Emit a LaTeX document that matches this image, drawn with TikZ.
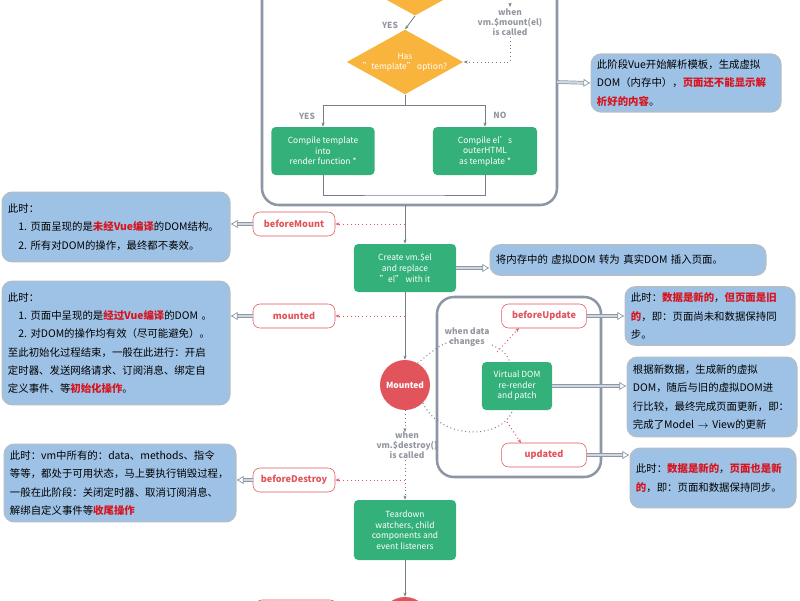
\documentclass[tikz,border=0pt]{standalone}
\usepackage{fontspec}
\setmainfont{Noto Sans CJK SC}[Ligatures=ResetAll]
\usetikzlibrary{arrows.meta,shapes.geometric}

\definecolor{vgreen}{RGB}{52,176,122}
\definecolor{vorange}{RGB}{248,180,60}
\definecolor{vred}{RGB}{226,84,92}
\definecolor{hot}{RGB}{215,20,30}
\definecolor{noteblue}{RGB}{158,194,230}
\definecolor{noteline}{RGB}{175,190,205}
\definecolor{frame}{RGB}{140,150,165}
\definecolor{wire}{RGB}{120,125,135}

\newcommand{\hl}[1]{\textbf{\color{hot}#1}}

\tikzset{
  task/.style={fill=vgreen, text=white, rounded corners=3pt, align=center,
    font=\fontsize{6}{7.5}\selectfont, minimum width=2.55cm, minimum height=1.2cm},
  choice/.style={diamond, fill=vorange, text=white, aspect=1.8, inner sep=0pt,
    minimum width=2.5cm, minimum height=1.38cm, align=center, font=\fontsize{6}{7}\selectfont},
  hook/.style={draw=vred, fill=white, rounded corners=5pt, text=vred,
    font=\fontsize{6.5}{7}\selectfont\bfseries, minimum width=2.05cm, minimum height=0.6cm},
  stage/.style={circle, fill=vred, text=white, minimum size=1.25cm,
    font=\fontsize{6}{7}\selectfont\bfseries},
  note/.style={fill=noteblue, draw=noteline, line width=1.2pt, rounded corners=7pt,
    align=left, font=\fontsize{7.4}{13}\selectfont, inner sep=4pt},
  tag/.style={text=wire!80, font=\fontsize{6}{7}\selectfont\bfseries, align=center},
  flow/.style={-{Stealth[length=3pt]}, wire, line width=0.6pt},
  hint/.style={-{Stealth[length=3pt]}, wire, dotted, line width=0.7pt},
  fire/.style={-{Stealth[length=3pt]}, vred, dotted, line width=0.7pt},
  push/.style={-{Latex[open,length=5pt,width=6pt]}, draw=noteline!80!black,
    double=noteline!60, double distance=1.6pt, line width=0.5pt},
}

\begin{document}
\begin{tikzpicture}[x=0.025cm, y=-0.025cm]
  \useasboundingbox (0,0) rectangle (800,600);
  \clip (0,0) rectangle (800,600);

  % compile frame
  \draw[frame, line width=1.8pt, rounded corners=12pt] (262,-20) rectangle (557,205);
  \node[choice] (el) at (415,-12) {};
  \node[choice] (tpl) at (405,62) {Has\\"template" option?};
  \node[task, minimum width=2.58cm] (render) at (323,151) {Compile template\\into\\render function *};
  \node[task, minimum width=2.6cm] (outer) at (485,151) {Compile el's\\outerHTML\\as template *};
  \coordinate (mnt) at (510,-20);
  \node[tag] at (510,22) {when\\vm.\$mount(el)\\is called};
  \node[tag] at (390,25) {YES};
  \node[tag] at (307,116) {YES};
  \node[tag] at (500,115) {NO};
  \draw[flow] (el.south) -- (tpl.north);
  \draw[hint] (mnt) -- (510,7); \draw[hint] (510,37) |- (tpl.east);
  \draw[flow] (tpl.south) -- (405,105) -| (render.north);
  \draw[flow] (405,105) -| (outer.north);
  \draw[wire, line width=0.6pt] (render.south) |- (405,195) -| (outer.south);

  % mount
  \node[task] (create) at (405,268) {Create vm.\$el\\and replace\\"el" with it};
  \node[stage] (mounted) at (405,385) {Mounted};
  \node[hook] (bm) at (294,224) {beforeMount};
  \node[hook] (md) at (294,316) {mounted};
  \draw[flow] (405,205) -- (create.north);
  \draw[flow] (create.south) -- (mounted.north);
  \draw[fire] (405,224) -- (bm.east);
  \draw[fire] (405,316) -- (md.east);

  % update frame
  \draw[frame, line width=1.8pt, rounded corners=12pt] (437,297) rectangle (601,477);
  \node[hook, minimum width=2.12cm] (bu) at (544,316) {beforeUpdate};
  \node[hook, minimum width=2.12cm] (ud) at (544,455) {updated};
  \node[task, minimum width=1.75cm] (vdom) at (517,386) {Virtual DOM\\re-render\\and patch};
  \node[tag] at (467,337) {when data\\changes};
  \draw[wire, dotted, line width=0.7pt] (mounted.60) .. controls (440,345) .. (455,340);
  \draw[wire, dotted, line width=0.7pt] (492,345) .. controls (505,352) .. (510,362);
  \draw[wire, dotted, line width=0.7pt] (mounted.-45) .. controls (440,440) and (500,440) .. (512,412);
  \draw[fire] (497,352) -- (519,328);
  \draw[fire] (507,422) -- (521,443);

  % destroy
  \node[tag] at (407,445) {when\\vm.\$destroy()\\is called};
  \node[task, minimum height=1.5cm] (teardown) at (405,530) {Teardown\\watchers, child\\components and\\event listeners};
  \node[stage] (destroyed) at (405,622) {};
  \node[hook] (bd) at (294,480) {beforeDestroy};
  \node[hook] (dd) at (296,612) {};
  \draw[hint] (mounted.south) -- (405,432);
  \draw[hint] (405,460) -- (teardown.north);
  \draw[fire] (405,480) -- (bd.east);
  \draw[flow] (teardown.south) -- (destroyed.north);

  % notes
  \node[note, text width=4.45cm, minimum height=1.43cm] (n1) at (686,83)
    {此阶段Vue开始解析模板，生成虚拟\\DOM（内存中），\hl{页面还不能显示解}\\\hl{析好的内容}。};
  \node[note, text width=5.4cm, minimum height=1.73cm] (n2) at (116,227)
    {此时：\\\mbox{\hspace*{1em}1.~页面呈现的是\hl{未经Vue编译}的DOM结构。}\\\mbox{\hspace*{1em}2.~所有对DOM的操作，最终都不奏效。}};
  \node[note, text width=6.6cm, minimum height=0.75cm] (n3) at (628,260)
    {将内存中的 虚拟DOM 转为 真实DOM 插入页面。};
  \node[note, text width=5.4cm, minimum height=3.08cm] (n4) at (116,343)
    {此时：\\\mbox{\hspace*{1em}1.~页面中呈现的是\hl{经过Vue编译}的DOM 。}\\\mbox{\hspace*{1em}2.~对DOM的操作均有效（尽可能避免）。}\\至此初始化过程结束，一般在此进行：开启\\定时器、发送网络请求、订阅消息、绑定自\\定义事件、等\hl{初始化操作}。};
  \node[note, text width=3.95cm, minimum height=1.45cm] (n5) at (710,316)
    {此时：\hl{数据是新的}，\hl{但页面是旧}\\\hl{的}，即：页面尚未和数据保持同\\步。};
  \node[note, text width=3.95cm, minimum height=1.98cm] (n6) at (712,397)
    {根据新数据，生成新的虚拟\\DOM，随后与旧的虚拟DOM进\\行比较，最终完成页面更新，即：\\完成了Model \textbf{$\rightarrow$} View的更新};
  \node[note, text width=3.85cm, minimum height=1.48cm] (n7) at (713,478)
    {此时：\hl{数据是新的}，\hl{页面也是新}\\\hl{的}，即：页面和数据保持同步。};
  \node[note, text width=5.5cm, minimum height=1.93cm] (n8) at (120,483)
    {此时：vm中所有的：data、methods、指令\\等等，都处于可用状态，马上要执行销毁过程，\\一般在此阶段：关闭定时器、取消订阅消息、\\解绑自定义事件等\hl{收尾操作}};

  \draw[push] (557,82) -- (n1.west);
  \draw[push] (bm.west) -- (bm.west -| n2.east);
  \draw[push] (create.east) -- (create.east -| n3.west);
  \draw[push] (md.west) -- (md.west -| n4.east);
  \draw[push] (bu.east) -- (bu.east -| n5.west);
  \draw[push] (vdom.east) -- (vdom.east -| n6.west);
  \draw[push] (ud.east) -- (ud.east -| n7.west);
  \draw[push] (bd.west) -- (bd.west -| n8.east);
\end{tikzpicture}
\end{document}
